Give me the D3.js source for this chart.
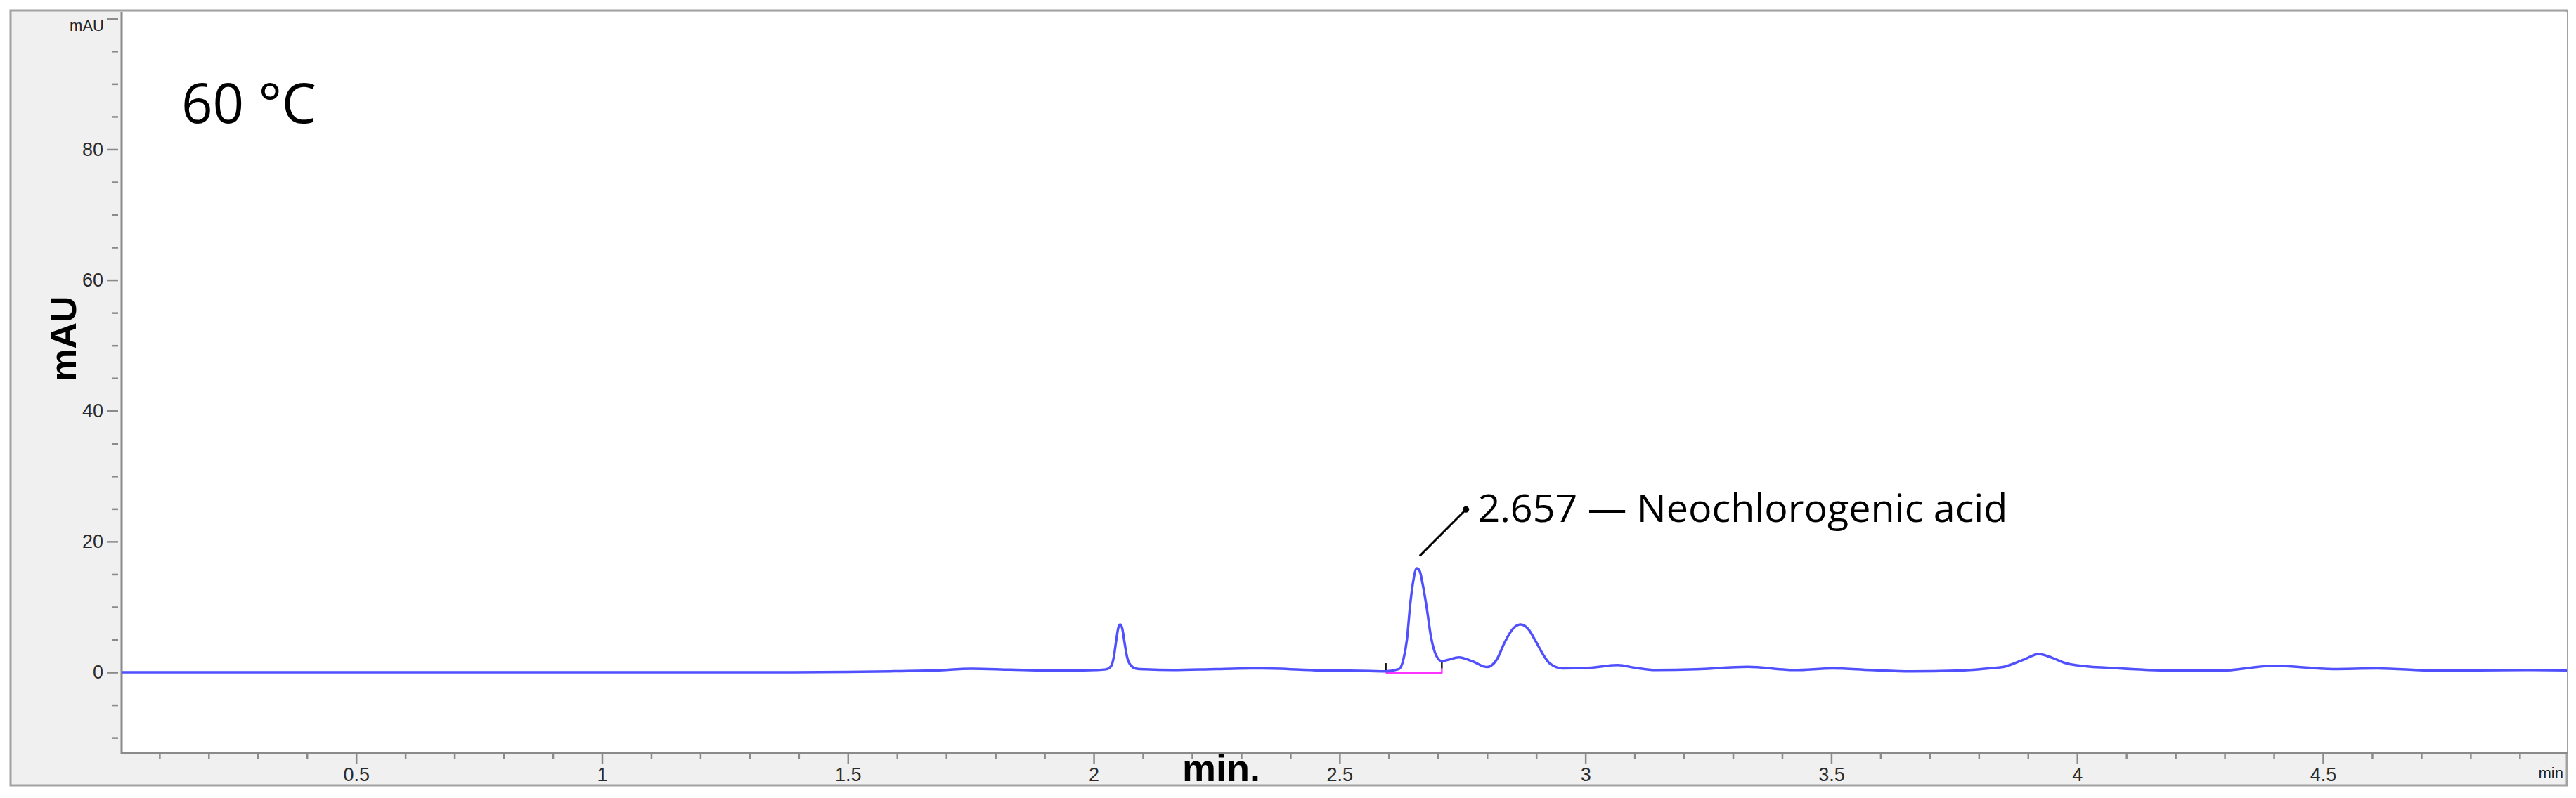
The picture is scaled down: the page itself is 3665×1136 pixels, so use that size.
<!DOCTYPE html>
<html>
<head>
<meta charset="utf-8">
<script src="https://cdn.jsdelivr.net/npm/d3@7"></script>
<style>
  body { margin: 0; background: #fff; }
  svg { display: block; }
  .tick text { font-family: "Liberation Sans", Arial, sans-serif; fill: #2b2b2b; }
</style>
</head>
<body>
<div class="chart"></div>
<script>
// retention time (min) and absorbance (mAU)
const times = [0.023, 0.2, 0.4, 0.6, 0.8, 1.0, 1.2, 1.386, 1.5, 1.586, 1.68, 1.751, 1.83, 1.933,
  2.005, 2.025, 2.035, 2.041, 2.046, 2.050, 2.054, 2.058, 2.063, 2.068, 2.075, 2.087, 2.105,
  2.161, 2.25, 2.343, 2.461, 2.56, 2.594, 2.621, 2.630, 2.637, 2.644, 2.650, 2.657, 2.663,
  2.669, 2.677, 2.686, 2.697, 2.708, 2.72, 2.743, 2.77, 2.80, 2.82, 2.836, 2.852, 2.868,
  2.884, 2.900, 2.915, 2.927, 2.954, 3.0, 3.066, 3.10, 3.143, 3.225, 3.33, 3.425, 3.503,
  3.58, 3.663, 3.753, 3.82, 3.854, 3.89, 3.922, 3.95, 3.977, 4.02, 4.06, 4.18, 4.29, 4.40,
  4.52, 4.61, 4.73, 4.91, 4.996];
const mAU = [0.0, 0.0, 0.0, 0.0, 0.0, 0.0, 0.0, 0.0, 0.05, 0.15, 0.3, 0.55, 0.4, 0.25,
  0.35, 0.45, 0.9, 2.4, 5.0, 6.8, 7.3, 6.7, 4.4, 2.3, 1.1, 0.55, 0.45,
  0.35, 0.5, 0.6, 0.3, 0.2, 0.15, 0.5, 2.0, 5.0, 10.6, 14.0, 15.9, 15.5,
  13.5, 10.0, 5.4, 2.5, 1.7, 1.9, 2.3, 1.7, 0.8, 2.0, 4.6, 6.6, 7.3,
  6.6, 4.6, 2.6, 1.4, 0.6, 0.65, 1.1, 0.7, 0.35, 0.45, 0.85, 0.35, 0.6,
  0.35, 0.15, 0.25, 0.6, 0.9, 1.9, 2.8, 2.2, 1.4, 0.9, 0.7, 0.3, 0.25, 1.0,
  0.5, 0.6, 0.25, 0.35, 0.3];

const xTicks = [0.5, 1, 1.5, 2, 2.5, 3, 3.5, 4, 4.5];
const xTickLabels = ["0.5", "1", "1.5", "2", "2.5", "3", "3.5", "4", "4.5"];
const yTicks = [0, 20, 40, 60, 80];
const yTickLabels = ["0", "20", "40", "60", "80"];

const peakTime = 2.657;
const peakLabel = "2.657 \u2014 Neochlorogenic acid";
const integration = [2.594, 2.708];
const title = "60 \u00b0C";

const w = 3665, h = 1136;
const frame = { left: 15, top: 15, right: 3652, bottom: 1118 };
const plot = { left: 173, top: 17, right: 3652, bottom: 1072 };
const axisColor = "#8a8a8a";

const xScale = d3.scaleLinear().domain([0.023, 4.996]).range([plot.left, plot.right]);
const yScale = d3.scaleLinear().domain([-12.35, 101]).range([plot.bottom, plot.top]);

const svg = d3.select(".chart").append("svg")
  .attr("width", w).attr("height", h);

/* panel and plot area */
svg.append("rect")
  .attr("x", frame.left).attr("y", frame.top)
  .attr("width", frame.right - frame.left).attr("height", frame.bottom - frame.top)
  .attr("fill", "#f0f0f0").attr("stroke", "#a2a2a2").attr("stroke-width", 3);
svg.append("rect")
  .attr("x", plot.left).attr("y", plot.top)
  .attr("width", plot.right - plot.left).attr("height", plot.bottom - plot.top)
  .attr("fill", "#fff");

/* x axis: minor then major ticks */
const xMinor = d3.range(1, 50).map(d => d / 10).filter(d => Math.round(d * 10) % 5 !== 0);
const gxMinor = svg.append("g")
  .attr("transform", `translate(0,${plot.bottom})`)
  .call(d3.axisBottom(xScale).tickValues(xMinor).tickSize(8).tickSizeOuter(0).tickFormat(""));
const gx = svg.append("g")
  .attr("transform", `translate(0,${plot.bottom})`)
  .call(d3.axisBottom(xScale).tickValues(xTicks).tickSize(15).tickSizeOuter(0)
    .tickFormat((d, i) => xTickLabels[i]));
gx.selectAll(".tick text").attr("y", 21).attr("dy", "0.71em").attr("font-size", 27);

/* y axis, ticks stand a little off the axis line */
const yMinor = d3.range(-10, 100, 5).filter(d => d % 20 !== 0);
const gyMinor = svg.append("g")
  .attr("transform", `translate(168,0)`)
  .call(d3.axisLeft(yScale).tickValues(yMinor).tickSize(8).tickSizeOuter(0).tickFormat(""));
const gy = svg.append("g")
  .attr("transform", `translate(168,0)`)
  .call(d3.axisLeft(yScale).tickValues(yTicks.concat([100])).tickSize(16).tickSizeOuter(0)
    .tickPadding(5).tickFormat((d, i) => yTickLabels[i] || ""));
gy.selectAll(".tick text").attr("font-size", 27);
gyMinor.select(".domain").remove();
gy.select(".domain").remove();

svg.selectAll(".tick line").attr("stroke", axisColor).attr("stroke-width", 2.5);
svg.selectAll(".domain").attr("stroke", axisColor).attr("stroke-width", 3);
svg.append("line")
  .attr("x1", plot.left).attr("x2", plot.left)
  .attr("y1", plot.top).attr("y2", plot.bottom + 1.5)
  .attr("stroke", axisColor).attr("stroke-width", 3);

/* unit labels at the axis ends */
svg.append("text")
  .attr("x", 148).attr("y", yScale(100) + 18)
  .attr("text-anchor", "end")
  .attr("font-family", "Liberation Sans, Arial, sans-serif").attr("font-size", 22)
  .attr("fill", "#222").text("mAU");
svg.append("text")
  .attr("x", plot.right - 5).attr("y", 1108)
  .attr("text-anchor", "end")
  .attr("font-family", "Liberation Sans, Arial, sans-serif").attr("font-size", 22)
  .attr("fill", "#222").text("min");

/* axis titles */
svg.append("text")
  .attr("transform", "translate(108,482) rotate(-90)")
  .attr("text-anchor", "middle")
  .attr("font-family", "Liberation Sans, Arial, sans-serif")
  .attr("font-weight", "bold").attr("font-size", 52)
  .text("mAU");
svg.append("text")
  .attr("x", 1682).attr("y", 1112)
  .attr("font-family", "Liberation Sans, Arial, sans-serif")
  .attr("font-weight", "bold").attr("font-size", 54)
  .text("min.");

svg.append("text")
  .attr("x", 258).attr("y", 175)
  .attr("font-family", "Open Sans, Noto Sans, sans-serif").attr("font-size", 78)
  .text(title);

/* integration baseline and markers */
svg.append("line")
  .attr("x1", xScale(integration[0])).attr("x2", xScale(integration[1]))
  .attr("y1", yScale(-0.15)).attr("y2", yScale(-0.15))
  .attr("stroke", "#ff33ff").attr("stroke-width", 3);
svg.append("line")
  .attr("x1", xScale(integration[1])).attr("x2", xScale(integration[1]))
  .attr("y1", yScale(-0.15)).attr("y2", yScale(0.6))
  .attr("stroke", "#ff33ff").attr("stroke-width", 2.5);
svg.append("line")
  .attr("x1", xScale(integration[0])).attr("x2", xScale(integration[0]))
  .attr("y1", yScale(0)).attr("y2", yScale(1.4))
  .attr("stroke", "#111").attr("stroke-width", 2.5);
svg.append("line")
  .attr("x1", xScale(integration[1])).attr("x2", xScale(integration[1]))
  .attr("y1", yScale(0.6)).attr("y2", yScale(1.7))
  .attr("stroke", "#111").attr("stroke-width", 2.5);

/* trace */
const line = d3.line()
  .x((d, i) => xScale(times[i]))
  .y(d => yScale(d))
  .curve(d3.curveMonotoneX);
svg.append("path")
  .datum(mAU)
  .attr("d", line)
  .attr("fill", "none")
  .attr("stroke", "#5050ff")
  .attr("stroke-width", 3.5)
  .attr("stroke-linejoin", "round");

/* peak annotation */
const tipX = xScale(peakTime + 0.006), tipY = yScale(17.8);
const dotX = xScale(peakTime + 0.1), dotY = yScale(24.9);
svg.append("line")
  .attr("x1", tipX).attr("y1", tipY).attr("x2", dotX).attr("y2", dotY)
  .attr("stroke", "#000").attr("stroke-width", 3);
svg.append("circle")
  .attr("cx", dotX).attr("cy", dotY).attr("r", 4.5).attr("fill", "#000");
svg.append("text")
  .attr("x", xScale(peakTime + 0.124)).attr("y", yScale(23.0))
  .attr("font-family", "Open Sans, Noto Sans, sans-serif").attr("font-size", 54)
  .attr("textLength", 754).attr("lengthAdjust", "spacingAndGlyphs")
  .text(peakLabel);
</script>
</body>
</html>
